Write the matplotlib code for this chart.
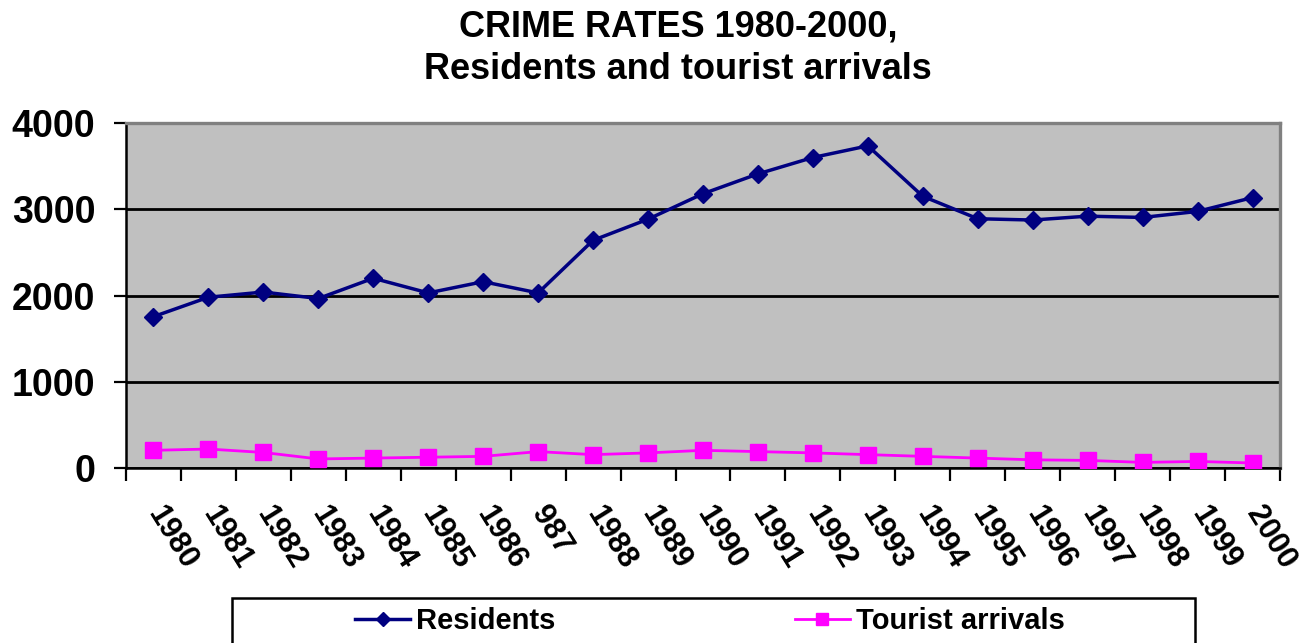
import matplotlib.pyplot as plt
from matplotlib.patches import Rectangle

years = ["1980", "1981", "1982", "1983", "1984", "1985", "1986", "987",
         "1988", "1989", "1990", "1991", "1992", "1993", "1994", "1995",
         "1996", "1997", "1998", "1999", "2000"]
residents = [1755, 1980, 2040, 1965, 2200, 2030, 2160, 2030, 2640, 2885, 3180,
             3410, 3600, 3735, 3150, 2890, 2875, 2920, 2905, 2975, 3135]
tourists = [205, 220, 180, 105, 115, 125, 135, 190, 155, 175, 205,
            190, 175, 155, 135, 115, 95, 88, 65, 76, 58]
y_ticks = [0, 1000, 2000, 3000, 4000]

plt.rcParams['font.family'] = ['Liberation Sans', 'DejaVu Sans']
plt.rcParams['font.weight'] = 'bold'

fig = plt.figure(figsize=(13, 6.43), dpi=100)
ax = fig.add_axes([126 / 1300, 1 - 468 / 643, 1154 / 1300, 345 / 643])
ax.set_facecolor('#c0c0c0')

x = list(range(len(years)))
ax.plot(x, residents, color='#000080', lw=2.5, marker='D', markersize=9.5,
        label='Residents', zorder=3)
ax.plot(x, tourists, color='#ff00ff', lw=2.0, marker='s', markersize=11.5,
        label='Tourist arrivals', zorder=3)

ax.set_xlim(-0.5, len(years) - 0.5)
ax.set_ylim(0, 4000)

# category boundaries get the tick marks, centres get the labels
ax.set_xticks([i - 0.5 for i in range(len(years) + 1)])
ax.set_xticklabels([])
ax.set_xticks(x, minor=True)
ax.set_xticklabels(years, minor=True, rotation=-58, ha='left', va='center',
                   rotation_mode='anchor', fontsize=22, fontweight='bold')
ax.tick_params(axis='x', which='major', direction='out', length=9, width=1.6,
               color='black')
ax.tick_params(axis='x', which='minor', length=0, pad=29)

ax.set_yticks(y_ticks)
ax.set_yticklabels([str(v) for v in y_ticks], fontsize=27, fontweight='bold')
ax.tick_params(axis='y', direction='out', length=9, width=1.6, pad=13,
               color='black')

ax.yaxis.grid(True, color='black', lw=2.0, zorder=1)
ax.set_axisbelow(True)

for side in ['left', 'bottom']:
    ax.spines[side].set_color('black')
    ax.spines[side].set_linewidth(1.8)
for side in ['top', 'right']:
    ax.spines[side].set_color('#808080')
    ax.spines[side].set_linewidth(2.4)

fig.text(678 / 1300, 1 - 9 / 643,
         "CRIME RATES 1980-2000,\nResidents and tourist arrivals",
         ha='center', va='top', fontsize=26, fontweight='bold',
         linespacing=1.3)

# legend box runs off the bottom edge
fig.patches.append(Rectangle((232 / 1300, -0.05), 963 / 1300, 0.05 + 45 / 643,
                             transform=fig.transFigure, facecolor='white',
                             edgecolor='black', lw=1.8))
handles, labels = ax.get_legend_handles_labels()
fig.legend(handles, labels, loc='center left',
           bbox_to_anchor=(355 / 1300, 1 - 621 / 643), ncol=2, frameon=False,
           handlelength=1.9, handletextpad=0.2, columnspacing=8.2,
           borderpad=0, borderaxespad=0, markerscale=0.8,
           prop={'size': 21, 'weight': 'bold'})

fig.savefig('out.png', dpi=100)
plt.close()
